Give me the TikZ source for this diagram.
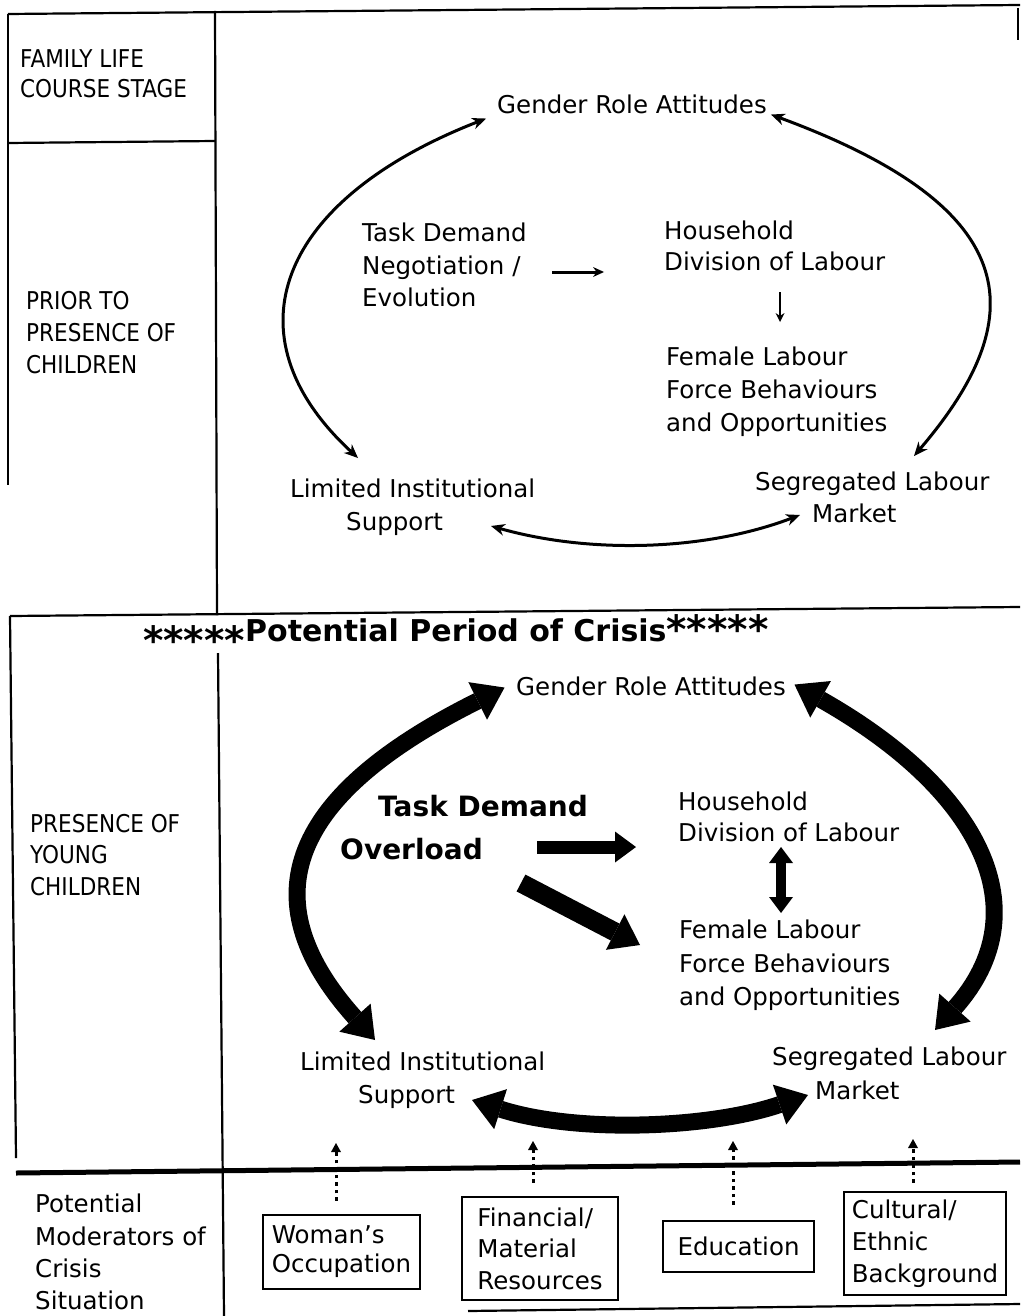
\documentclass[tikz,border=0pt]{standalone}
\usepackage{fontspec}
\setmainfont{DejaVu Sans}
\newfontfamily\capsfont[FakeStretch=0.88]{DejaVu Sans}
\usepackage{graphicx}
\usetikzlibrary{arrows.meta,calc}
\newcommand{\lowstar}{\raisebox{-13.8pt}{\scalebox{1.3}{*}}}
\newcommand{\highstar}{\raisebox{-2pt}{\scalebox{1.3}{*}}}
\begin{document}
\begin{tikzpicture}[x=1pt,y=-1pt,
  lbl/.style={inner sep=0pt, anchor=north west, align=left, font={\fontsize{24.5}{32.5}\selectfont}},
  capslbl/.style={inner sep=0pt, anchor=north west, align=left, font={\capsfont\fontsize{24.5}{32}\selectfont}},
  framel/.style={line width=2.2pt},
  thinarc/.style={line width=3pt, {Stealth[length=14pt,width=12pt,line width=0pt]}-{Stealth[length=14pt,width=12pt,line width=0pt]}},
  thinarrow/.style={line width=3pt, -{Stealth[length=11pt,width=10pt,line width=0pt]}},
  thinarrowb/.style={line width=2.2pt, -{Stealth[length=9pt,width=9pt,line width=0pt]}},
  thickarc/.style={line width=17pt, {Triangle[length=30pt,width=42pt,line width=0pt]}-{Triangle[length=30pt,width=42pt,line width=0pt]}},
  blockarrow/.style={line width=13pt, -{Triangle[length=21pt,width=31pt,line width=0pt]}},
  diagarrow/.style={line width=19pt, -{Triangle[length=28pt,width=40pt,line width=0pt]}},
  vertarrow/.style={line width=10pt, {Triangle[length=16pt,width=24pt,line width=0pt]}-{Triangle[length=16pt,width=24pt,line width=0pt]}},
  dotarrow/.style={line width=3pt, dash pattern=on 3.5pt off 4pt, -{Triangle[length=9pt,width=10pt,line width=0pt]}},
  modbox/.style={draw, line width=2.2pt, inner sep=0pt, align=left, anchor=center, font={\fontsize{24.5}{32}\selectfont}}
]
\useasboundingbox (0,0) rectangle (1020,1316);
\fill[white] (0,0) rectangle (1020,1316);

% frame
\draw[framel] (8,14) -- (1020,5);
\draw[framel] (8,14) -- (8,485);
\draw[framel] (8,143) -- (215,141);
\draw[framel] (215,11) -- (217,615);
\draw[framel] (1018,8) -- (1018,40);
\draw[framel] (10,616) -- (1020,607);
\draw[framel] (10,616) -- (16,1158);
\draw[framel] (218,653) -- (224,1316);
\draw[line width=5pt] (16,1173) -- (1020,1162);
\draw[framel] (468,1311) -- (1020,1304);

% left column
\node[capslbl, font={\capsfont\fontsize{24.5}{30}\selectfont}] (stage) at (20,49) {FAMILY LIFE\\COURSE STAGE};
\node[capslbl] (prior) at (26,291) {PRIOR TO\\PRESENCE OF\\CHILDREN};
\node[capslbl, font={\capsfont\fontsize{24.5}{31.5}\selectfont}] (young) at (30,814) {PRESENCE OF\\YOUNG\\CHILDREN};
\node[lbl, font={\fontsize{24.5}{32.3}\selectfont}] (moder) at (35,1194) {Potential\\Moderators of\\Crisis\\Situation};

% top panel
\node[lbl, anchor=base] (gra1) at (632,114) {Gender Role Attitudes};
\node[lbl] (tdn) at (362,223) {Task Demand\\Negotiation /\\Evolution};
\node[lbl, font={\fontsize{24.5}{31}\selectfont}] (hdl) at (664,221) {Household\\Division of Labour};
\node[lbl, font={\fontsize{24.5}{33}\selectfont}] (flb) at (666,347) {Female Labour\\Force Behaviours\\and Opportunities};
\node[lbl, font={\fontsize{24.5}{33}\selectfont}] (lis1) at (290,479) {Limited Institutional\\\hspace*{56pt}Support};
\node[lbl, font={\fontsize{24.5}{32}\selectfont}] (slm1) at (755,472) {Segregated Labour\\\hspace*{57pt}Market};

\draw[thinarc] ([shift={(-11,4)}]gra1.south west) .. controls (278,200) and (225,335) .. ([shift={(68,-21)}]lis1.north west);
\draw[thinarc] ([shift={(4,0)}]gra1.south east) .. controls (1030,210) and (1030,320) .. ([shift={(159,-16)}]slm1.north west);
\draw[thinarc] ([shift={(201,47)}]lis1.north west) .. controls (590,554) and (705,551) .. ([shift={(45,43)}]slm1.north west);
\draw[thinarrow] ([shift={(190,49)}]tdn.north west) -- ([shift={(-60,51)}]hdl.north west);
\draw[thinarrowb] ([shift={(116,71)}]hdl.north west) -- ([shift={(114,-25)}]flb.north west);

% lower panel
\node[anchor=base west, inner sep=0pt, font={\bfseries\fontsize{30}{36}\selectfont}] (crisis) at (143,641) {\lowstar\lowstar\lowstar\lowstar\lowstar Potential Period of Crisis\highstar\highstar\highstar\highstar\highstar};
\node[lbl, anchor=base] (gra2) at (651,695) {Gender Role Attitudes};
\node[lbl, font={\bfseries\fontsize{28}{43}\selectfont}] (tdo) at (340,795) {\hspace*{38pt}Task Demand\\Overload};
\node[lbl, font={\fontsize{24.5}{31}\selectfont}] (hdl2) at (678,792) {Household\\Division of Labour};
\node[lbl, font={\fontsize{24.5}{33.5}\selectfont}] (flb2) at (679,920) {Female Labour\\Force Behaviours\\and Opportunities};
\node[lbl, font={\fontsize{24.5}{33}\selectfont}] (lis2) at (300,1052) {Limited Institutional\\\hspace*{58pt}Support};
\node[lbl, font={\fontsize{24.5}{34}\selectfont}] (slm2) at (772,1047) {Segregated Labour\\\hspace*{43pt}Market};

\draw[thickarc] ([shift={(-11.5,-8)}]gra2.south west) .. controls (279,800) and (254,905) .. ([shift={(75,-12)}]lis2.north west);
\draw[thickarc] ([shift={(8.5,-11)}]gra2.south east) .. controls (981,790) and (1041,911) .. ([shift={(163,-17)}]slm2.north west);
\draw[thickarc] ([shift={(172,48)}]lis2.north west) .. controls (575,1133) and (707,1129) .. ([shift={(36,48)}]slm2.north west);

\draw[blockarrow] ([shift={(197,52)}]tdo.north west) -- ([shift={(-42,55)}]hdl2.north west);
\draw[diagarrow] ([shift={(181,88)}]tdo.north west) -- ([shift={(-39,25)}]flb2.north west);
\draw[vertarrow] ([shift={(103,55)}]hdl2.north west) -- ([shift={(102,-7)}]flb2.north west);

% moderators
\node[modbox, minimum width=157pt, minimum height=74pt, font={\fontsize{24.5}{29}\selectfont}] (wo) at (341.5,1252) {Woman's\\Occupation};
\node[modbox, minimum width=156pt, minimum height=103pt, font={\fontsize{24.5}{31.5}\selectfont}] (fin) at (540,1248.5) {Financial/\\Material\\Resources};
\node[modbox, minimum width=151pt, minimum height=51pt] (edu) at (738.5,1246.5) {Education};
\node[modbox, minimum width=162pt, minimum height=103pt] (cul) at (925,1243.5) {Cultural/\\Ethnic\\Background};

\coordinate (t1) at (336,1143);
\coordinate (t2) at (533,1141);
\coordinate (t3) at (733,1141);
\coordinate (t4) at (913,1139);
\draw[dotarrow] ($(t1 |- wo.north)+(0,-13)$) -- (t1);
\draw[dotarrow] ($(t2 |- fin.north)+(0,-13)$) -- (t2);
\draw[dotarrow] ($(t3 |- edu.north)+(0,-15)$) -- (t3);
\draw[dotarrow] ($(t4 |- cul.north)+(0,-8)$) -- (t4);
\end{tikzpicture}
\end{document}
